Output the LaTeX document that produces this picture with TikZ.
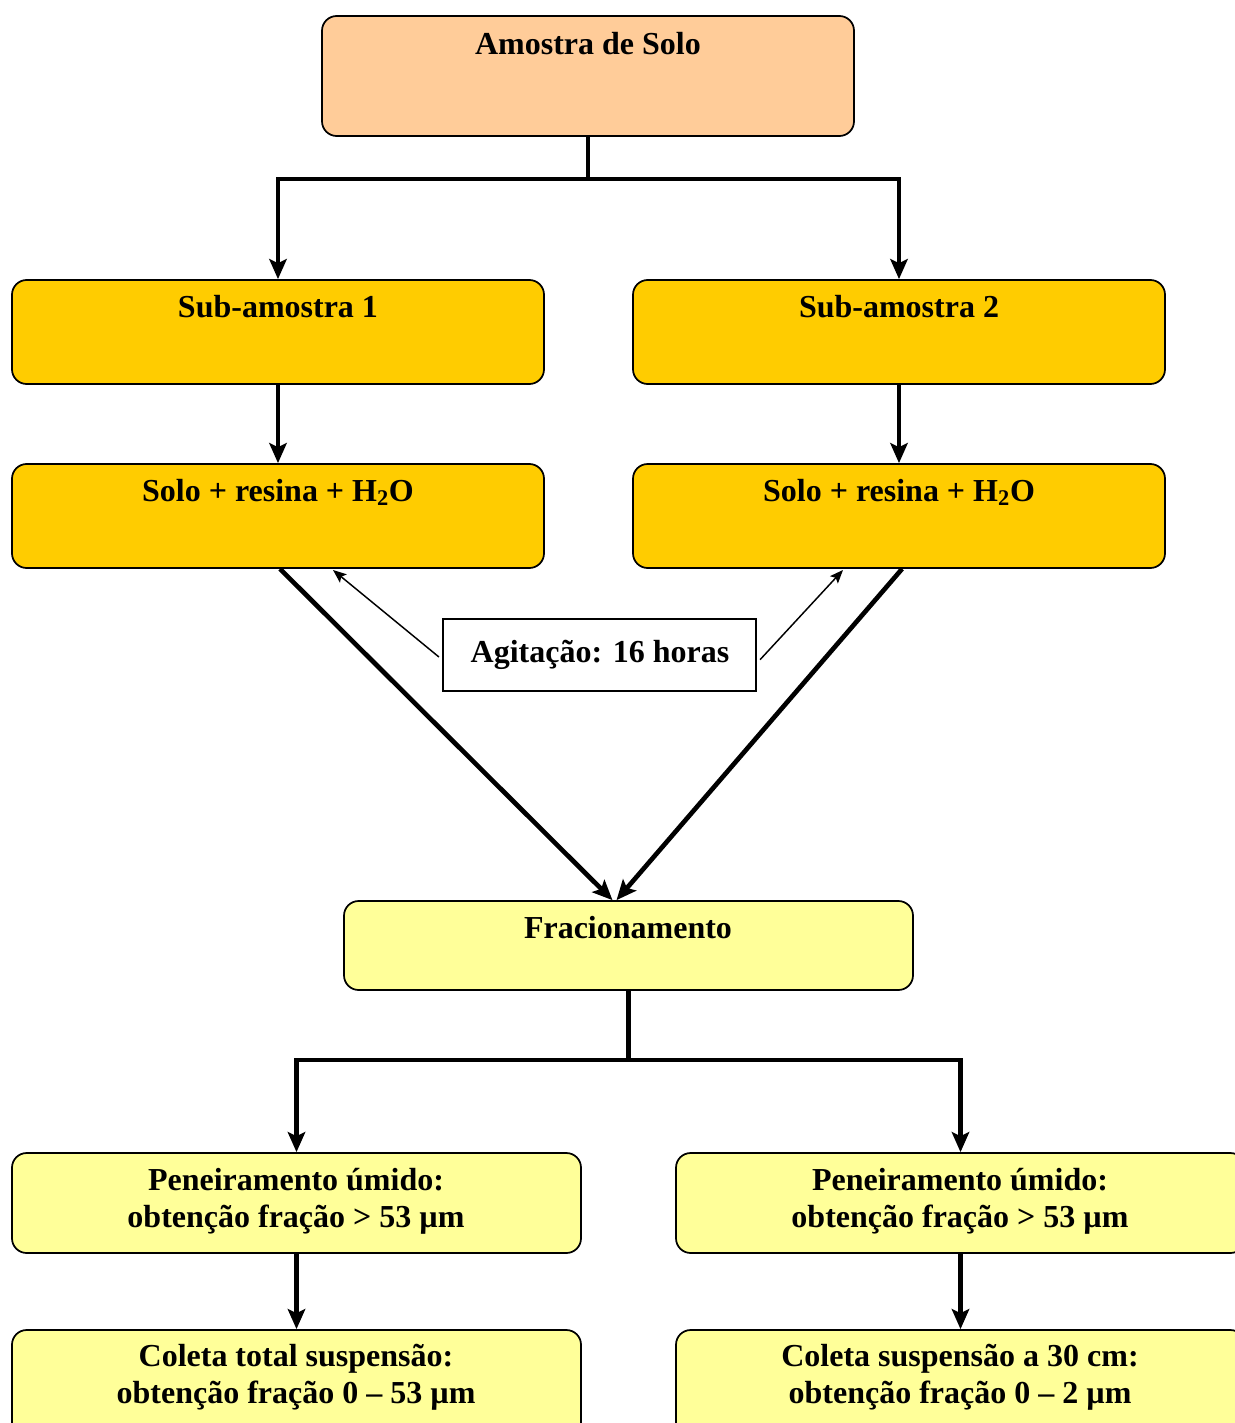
\documentclass[tikz,border=0pt]{standalone}
\usepackage{fontspec}
\setmainfont{Liberation Serif}
\usetikzlibrary{arrows.meta,fit,calc}
\definecolor{peach}{HTML}{FFCC99}
\definecolor{gold}{HTML}{FFCC00}
\definecolor{lightyel}{HTML}{FFFF99}
\tikzset{
  boxbase/.style={draw=black, line width=1.3pt, rounded corners=11pt, inner sep=0pt},
  peachbox/.style={boxbase, fill=peach},
  goldbox/.style={boxbase, fill=gold},
  yelbox/.style={boxbase, fill=lightyel},
  plainbox/.style={draw=black, line width=1.1pt, fill=white, inner sep=0pt},
  txt/.style={font=\fontsize{24}{27.75}\selectfont\bfseries, inner sep=0pt, align=center},
  conn/.style={line width=3.5pt},
  connarrow/.style={conn, -{Stealth[length=15pt,width=13pt,inset=3pt]}},
  thinarrow/.style={line width=1.1pt, -{Stealth[length=10pt,width=8pt,inset=2pt]}}
}
\begin{document}
\begin{tikzpicture}[x=0.75pt,y=-0.75pt]
\useasboundingbox (0,0) rectangle (1234,1423);
% boxes
\node[peachbox, fit={(322,16) (854,136)}] (amostra) {};
\node[txt, anchor=base] (tamostra) at (588,55) {Amostra de Solo};

\node[goldbox, fit={(12,280) (544,384)}] (sub1) {};
\node[txt, anchor=base] (tsub1) at (278,317) {Sub-amostra 1};
\node[goldbox, fit={(633,280) (1165,384)}] (sub2) {};
\node[txt, anchor=base] (tsub2) at (899,317) {Sub-amostra 2};

\node[goldbox, fit={(12,464) (544,568)}] (solo1) {};
\node[txt, anchor=base] (tsolo1) at (278,501) {Solo + resina + H\textsubscript{2}O};
\node[goldbox, fit={(633,464) (1165,568)}] (solo2) {};
\node[txt, anchor=base] (tsolo2) at (899,501) {Solo + resina + H\textsubscript{2}O};

\node[plainbox, fit={(443,619) (756,691)}] (agit) {};
\node[txt, anchor=base] (tagit) at (600,662) {Agitação: 16 horas};

\node[yelbox, fit={(344,901) (913,990)}] (frac) {};
\node[txt, anchor=base] (tfrac) at (628,938) {Fracionamento};

\node[yelbox, fit={(12,1153) (581,1253)}] (pen1) {};
\node[txt] (tpen1) at (296,1201) {Peneiramento úmido:\\obtenção fração > 53 µm};
\node[yelbox, fit={(676,1153) (1245,1253)}] (pen2) {};
\node[txt] (tpen2) at (960,1201) {Peneiramento úmido:\\obtenção fração > 53 µm};

\node[yelbox, fit={(12,1330) (581,1450)}] (col1) {};
\node[txt] (tcol1) at (296,1377) {Coleta total suspensão:\\obtenção fração 0 – 53 µm};
\node[yelbox, fit={(676,1330) (1245,1450)}] (col2) {};
\node[txt] (tcol2) at (960,1377) {Coleta suspensão a 30 cm:\\obtenção fração 0 – 2 µm};

% connectors
\coordinate (j1) at (amostra.south |- 0,179);
\draw[conn] (amostra.south) -- (j1);
\draw[connarrow] (j1) -| (sub1.north);
\draw[connarrow] (j1) -| (sub2.north);
\draw[connarrow] (sub1.south) -- (solo1.north);
\draw[connarrow] (sub2.south) -- (solo2.north);

\draw[connarrow] ([xshift=1.5pt]solo1.south) -- ([xshift=-12pt]frac.north);
\draw[connarrow] ([xshift=2.3pt]solo2.south) -- ([xshift=-9pt]frac.north);

\draw[thinarrow] ([xshift=-2.5pt,yshift=-1.5pt]agit.west) -- (333,570);
\draw[thinarrow] ([xshift=2.5pt,yshift=-3.5pt]agit.east) -- (843,570);

\coordinate (j2) at (frac.south |- 0,1060);
\draw[conn] (frac.south) -- (j2);
\draw[connarrow] (j2) -| (pen1.north);
\draw[connarrow] (j2) -| (pen2.north);
\draw[connarrow] (pen1.south) -- (col1.north);
\draw[connarrow] (pen2.south) -- (col2.north);
\end{tikzpicture}
\end{document}
